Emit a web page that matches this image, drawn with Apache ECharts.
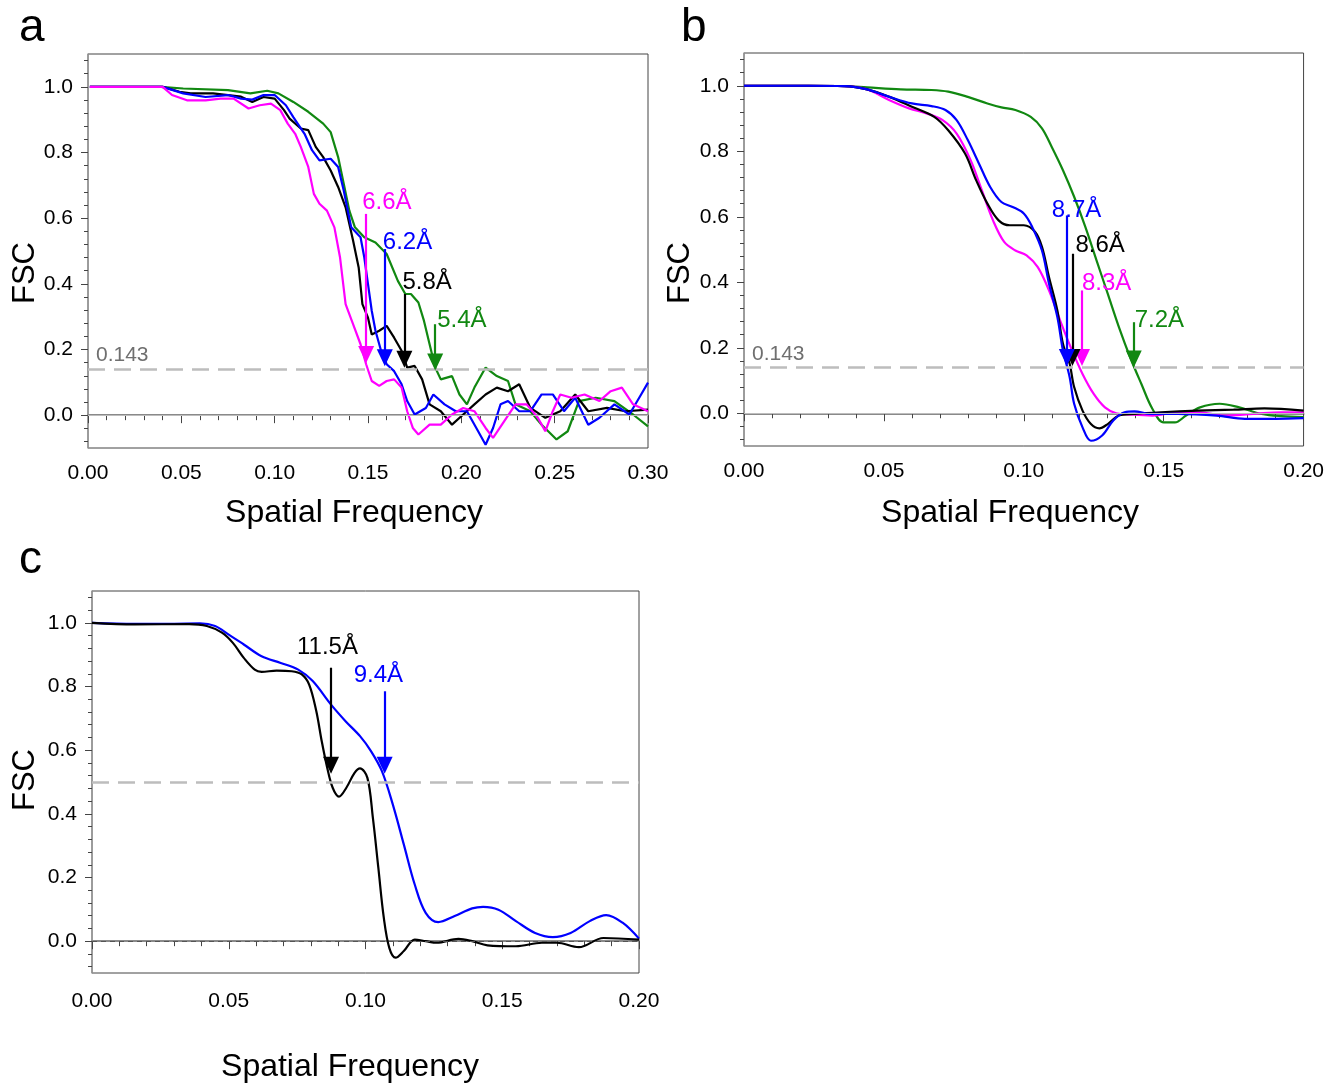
<!DOCTYPE html>
<html>
<head>
<meta charset="utf-8">
<script src="https://cdn.jsdelivr.net/npm/echarts@6/dist/echarts.min.js"></script>
<style>
html,body{margin:0;padding:0;background:#fff;}
#chart{width:1327px;height:1085px;}
</style>
</head>
<body>
<div id="chart"></div>
<script>
// ---------- Panel a (noisy FSC curves) ----------
const aFreqGreen = [0.001,0.02,0.039,0.051,0.075,0.087,0.096,0.102,0.110,0.118,0.126,0.130,0.134,0.137,0.140,0.143,0.148,0.154,0.160,0.166,0.170,0.173,0.177,0.180,0.183,0.186,0.189,0.195,0.199,0.203,0.207,0.213,0.219,0.225,0.229,0.237,0.243,0.251,0.257,0.263,0.272,0.282,0.292,0.300];
const aFscGreen  = [1.0,1.0,1.0,0.995,0.99,0.98,0.988,0.98,0.954,0.924,0.888,0.862,0.786,0.705,0.623,0.572,0.542,0.526,0.491,0.409,0.369,0.369,0.343,0.287,0.216,0.145,0.109,0.119,0.063,0.033,0.084,0.145,0.119,0.104,0.033,0.012,-0.029,-0.074,-0.049,0.043,0.053,0.043,0.002,-0.034];

const aFreqBlack = [0.001,0.02,0.04,0.049,0.055,0.067,0.075,0.082,0.088,0.094,0.100,0.105,0.108,0.114,0.118,0.122,0.126,0.130,0.134,0.138,0.142,0.145,0.147,0.150,0.152,0.156,0.160,0.164,0.168,0.171,0.175,0.179,0.183,0.189,0.195,0.201,0.207,0.213,0.219,0.225,0.231,0.237,0.245,0.253,0.261,0.268,0.278,0.288,0.300];
const aFscBlack  = [1.0,1.0,1.0,0.985,0.98,0.98,0.975,0.97,0.954,0.969,0.964,0.929,0.903,0.873,0.868,0.817,0.786,0.745,0.695,0.633,0.532,0.450,0.338,0.297,0.246,0.257,0.272,0.236,0.196,0.145,0.150,0.109,0.033,0.012,-0.029,0.002,0.033,0.063,0.084,0.073,0.094,0.022,-0.008,0.012,0.063,0.012,0.022,0.012,0.017];

const aFreqBlue = [0.001,0.02,0.04,0.051,0.063,0.075,0.082,0.088,0.094,0.100,0.106,0.110,0.116,0.120,0.124,0.130,0.134,0.137,0.141,0.146,0.148,0.150,0.152,0.154,0.157,0.160,0.164,0.168,0.171,0.175,0.181,0.185,0.191,0.197,0.203,0.209,0.213,0.217,0.221,0.225,0.231,0.237,0.243,0.249,0.255,0.261,0.268,0.274,0.282,0.290,0.296,0.300];
const aFscBlue  = [1.0,1.0,1.0,0.98,0.969,0.975,0.964,0.961,0.975,0.975,0.944,0.908,0.857,0.807,0.776,0.781,0.756,0.684,0.572,0.542,0.481,0.399,0.318,0.257,0.196,0.155,0.134,0.094,0.043,0.002,0.022,0.063,0.033,0.012,0.012,-0.049,-0.090,-0.039,0.033,0.043,0.012,0.012,0.063,0.063,0.012,0.053,-0.029,-0.008,0.033,0.002,0.06,0.099];

const aFreqMagenta = [0.001,0.02,0.04,0.045,0.053,0.063,0.071,0.078,0.086,0.092,0.098,0.103,0.107,0.111,0.114,0.118,0.121,0.124,0.128,0.132,0.135,0.138,0.142,0.146,0.149,0.152,0.156,0.160,0.164,0.168,0.171,0.174,0.177,0.183,0.189,0.195,0.201,0.207,0.213,0.217,0.223,0.229,0.235,0.241,0.245,0.249,0.253,0.259,0.266,0.274,0.280,0.286,0.292,0.300];
const aFscMagenta  = [1.0,1.0,1.0,0.975,0.959,0.959,0.964,0.964,0.934,0.944,0.949,0.929,0.888,0.857,0.817,0.756,0.674,0.644,0.623,0.572,0.481,0.338,0.277,0.216,0.155,0.104,0.089,0.104,0.109,0.084,0.012,-0.039,-0.059,-0.029,-0.029,0.002,0.022,0.012,-0.039,-0.069,-0.018,0.033,0.033,-0.008,-0.049,0.012,0.063,0.053,0.063,0.043,0.073,0.084,0.033,0.012];

const aArrowFreq = [0.149, 0.159, 0.1695, 0.186];
const aArrowTop  = [0.613, 0.506, 0.369, 0.277];
const aArrowEnd  = [0.185, 0.175, 0.170, 0.162];
const aArrowText = ['6.6Å', '6.2Å', '5.8Å', '5.4Å'];
const aThreshold = 0.143;

// ---------- Panel b (smooth FSC curves) ----------
const bFreqGreen = [0,0.023,0.036,0.044,0.056,0.067,0.073,0.080,0.087,0.092,0.097,0.1025,0.1065,0.110,0.114,0.118,0.122,0.126,0.130,0.134,0.138,0.142,0.146,0.150,0.154,0.158,0.163,0.170,0.177,0.185,0.192,0.200];
const bFscGreen  = [1.0,1.0,0.999,0.995,0.989,0.987,0.982,0.966,0.946,0.934,0.926,0.905,0.870,0.813,0.742,0.661,0.569,0.467,0.365,0.263,0.171,0.090,0.013,-0.028,-0.028,-0.007,0.018,0.029,0.018,-0.002,-0.009,-0.012];

const bFreqBlack = [0,0.023,0.036,0.044,0.052,0.060,0.068,0.073,0.079,0.083,0.087,0.091,0.095,0.100,0.104,0.1065,0.109,0.112,0.114,0.1164,0.118,0.121,0.124,0.127,0.130,0.134,0.1396,0.149,0.162,0.175,0.186,0.200];
const bFscBlack  = [1.0,1.0,0.999,0.989,0.966,0.936,0.905,0.864,0.793,0.711,0.640,0.589,0.574,0.574,0.554,0.508,0.416,0.314,0.212,0.151,0.080,0.008,-0.033,-0.046,-0.033,-0.007,-0.002,0.003,0.008,0.011,0.015,0.008];

const bFreqBlue = [0,0.023,0.036,0.044,0.052,0.060,0.067,0.072,0.076,0.080,0.084,0.088,0.092,0.096,0.100,0.103,0.1065,0.109,0.112,0.114,0.1164,0.118,0.121,0.124,0.128,0.132,0.136,0.1396,0.145,0.155,0.169,0.179,0.190,0.200];
const bFscBlue  = [1.0,1.0,0.999,0.989,0.966,0.946,0.938,0.926,0.895,0.834,0.762,0.691,0.645,0.630,0.610,0.569,0.497,0.396,0.294,0.192,0.110,0.029,-0.043,-0.084,-0.068,-0.022,0.003,0.006,-0.002,-0.002,-0.007,-0.017,-0.017,-0.015];

const bFreqMagenta = [0,0.023,0.036,0.044,0.052,0.059,0.0655,0.071,0.076,0.081,0.085,0.089,0.093,0.097,0.101,0.105,0.109,0.113,0.117,0.121,0.125,0.129,0.133,0.138,0.146,0.155,0.163,0.171,0.182,0.192,0.200];
const bFscMagenta  = [1.0,1.0,0.999,0.989,0.956,0.931,0.915,0.895,0.854,0.773,0.681,0.589,0.523,0.497,0.482,0.446,0.375,0.283,0.197,0.120,0.059,0.018,0.0,-0.004,-0.007,0.003,0.003,-0.007,-0.002,0.003,0.003];

const bArrowFreq = [0.1154, 0.1174, 0.1208, 0.1393];
const bArrowTop  = [0.604, 0.487, 0.375, 0.278];
const bArrowEnd  = [0.170, 0.170, 0.170, 0.166];
const bArrowText = ['8.7Å', '8.6Å', '8.3Å', '7.2Å'];
const bThreshold = 0.143;

// ---------- Panel c ----------
const cFreqBlue = [0,0.0156,0.029,0.0395,0.045,0.050,0.0555,0.062,0.069,0.0754,0.0807,0.0874,0.0927,0.098,0.102,0.106,0.110,0.114,0.118,0.122,0.1266,0.1326,0.139,0.143,0.1486,0.155,0.162,0.1685,0.175,0.182,0.188,0.194,0.200];
const cFscBlue  = [1.0,0.997,0.997,0.998,0.990,0.963,0.932,0.895,0.874,0.853,0.817,0.743,0.691,0.644,0.597,0.534,0.429,0.304,0.178,0.089,0.060,0.079,0.103,0.108,0.099,0.063,0.026,0.013,0.026,0.063,0.082,0.058,0.008];

const cFreqBlack = [0,0.0156,0.0355,0.042,0.0475,0.0515,0.0555,0.0595,0.062,0.0675,0.073,0.0767,0.0794,0.082,0.084,0.086,0.088,0.0903,0.093,0.096,0.098,0.1007,0.1027,0.1047,0.1067,0.1087,0.111,0.114,0.118,0.122,0.126,0.134,0.139,0.1446,0.155,0.1645,0.170,0.178,0.187,0.200];
const cFscBlack  = [1.0,0.995,0.996,0.990,0.969,0.937,0.890,0.853,0.846,0.850,0.848,0.838,0.806,0.723,0.628,0.545,0.482,0.454,0.482,0.529,0.543,0.513,0.387,0.230,0.073,-0.021,-0.052,-0.031,0.005,0.0,-0.005,0.007,0.0,-0.013,-0.016,-0.005,-0.005,-0.019,0.010,0.005];

const cArrowFreq = [0.0874, 0.107];
const cArrowTop  = [0.859, 0.785];
const cArrowEnd  = [0.553, 0.553];
const cArrowText = ['11.5Å', '9.4Å'];
const cThreshold = 0.5;

// ---------- Axis ticks ----------
const yLabelTicks = [0, 0.2, 0.4, 0.6, 0.8, 1.0];
const yMinorTicks = [-0.08,-0.04,0.04,0.08,0.12,0.16,0.24,0.28,0.32,0.36,0.44,0.48,0.52,0.56,0.64,0.68,0.72,0.76,0.84,0.88,0.92,0.96,1.04,1.08];

// ---------- Styles / layout ----------
const COL = {green:'#118811', black:'#000000', blue:'#0000ff', magenta:'#ff00ff'};
const FONT = 'Arial, "Liberation Sans", sans-serif';
const grids = [
  {left: 88, top: 54, width: 560, height: 394},
  {left: 744, top: 53, width: 561, height: 393},
  {left: 92, top: 591, width: 547, height: 382}
];
const xMax = [0.3, 0.2, 0.2];
// label offsets [dx, dy] relative to arrow top (px)
const aLabelOff = [[-4,-24],[-2,-19],[-2,-24],[2,-16]];
const bLabelOff = [[-15,-17],[3,-20],[0,-19],[1,-14]];
const cLabelOff = [[-34,-32],[-31,-28]];

function zip(xs, ys){ return xs.map((x,i)=>[x, ys[i]]); }

const xAxes = grids.map((g,i)=>({
  type:'value', gridIndex:i, min:0, max:xMax[i], interval:0.05,
  axisLine:{show:true, lineStyle:{color:'#8a8a8a', width:2}},
  axisTick:{show:true, inside:false, length:8, lineStyle:{color:'#444', width:1}},
  minorTick:{show:true, splitNumber:5, length:5, lineStyle:{color:'#444', width:1}},
  splitLine:{show:false}, minorSplitLine:{show:false},
  axisLabel:{show:true, formatter:v=>v.toFixed(2), fontSize:21, color:'#000', fontFamily:FONT, margin: i===2 ? 18 : 15,
    showMinLabel:true, showMaxLabel:true}
}));

const yAxes = [];
grids.forEach((g,i)=>{
  yAxes.push({
    type:'value', gridIndex:i, min:-0.1, max:1.1, position:'left',
    axisLine:{show:true, onZero:false, lineStyle:{color:'#9a9a9a', width:1.5}},
    axisTick:{show:true, inside:false, length:7, customValues:yLabelTicks, lineStyle:{color:'#444'}},
    axisLabel:{show:true, customValues:yLabelTicks, formatter:v=>v.toFixed(1), fontSize:21, color:'#000', fontFamily:FONT, margin:15},
    splitLine:{show:false}
  });
  yAxes.push({
    type:'value', gridIndex:i, min:-0.1, max:1.1, position:'left',
    axisLine:{show:false},
    axisTick:{show:true, inside:false, length:4, customValues:yMinorTicks, lineStyle:{color:'#444'}},
    axisLabel:{show:false},
    splitLine:{show:false}
  });
});

function curve(gi, xs, ys, color, smooth, arrow){
  const s = {
    type:'line', xAxisIndex:gi, yAxisIndex:gi*2, data:zip(xs,ys), showSymbol:false, symbol:'none',
    smooth:smooth, lineStyle:{color:color, width:2.2}, z:3, silent:true, animation:false
  };
  if (arrow){
    s.markLine = {
      silent:true, animation:false, symbol:['none','triangle'], symbolSize:[16,17],
      lineStyle:{color:color, width:2.2, type:'solid'}, label:{show:false},
      data:[[{coord:[arrow.x, arrow.top]},{coord:[arrow.x, arrow.end]}]]
    };
  }
  return s;
}
function labelSeries(gi, xs, tops, texts, colors, offs, fs){
  return {
    type:'scatter', xAxisIndex:gi, yAxisIndex:gi*2, symbolSize:0, silent:true, animation:false, z:6,
    itemStyle:{opacity:1},
    data: xs.map((x,i)=>({value:[x, tops[i]], label:{show:true, formatter:texts[i], color:colors[i], opacity:1, textBorderWidth:0, position:offs[i], fontSize:fs, fontFamily:FONT}}))
  };
}
function refLine(gi, y, style, label){
  return {
    type:'line', xAxisIndex:gi, yAxisIndex:gi*2, data:[], silent:true, animation:false, z:2,
    markLine:{silent:true, animation:false, symbol:['none','none'], lineStyle:style,
      label: label ? {show:true, formatter:label, position:'insideStartTop', color:'#6f6f6f', fontSize:21, fontFamily:FONT, distance:[8,3]} : {show:false},
      data:[{yAxis:y}]}
  };
}

const aColors = [COL.magenta, COL.blue, COL.black, COL.green];
const bColors = [COL.blue, COL.black, COL.magenta, COL.green];
const cColors = [COL.black, COL.blue];
const arr = (xs,t,e,i)=>({x:xs[i], top:t[i], end:e[i]});

const series = [
  // panel a
  refLine(0, 0, {color:'#bdbdbd', width:1, type:'solid'}),
  refLine(0, aThreshold, {color:'#bdbdbd', width:2.5, type:[17,9]}, '0.143'),
  curve(0, aFreqGreen, aFscGreen, COL.green, false, arr(aArrowFreq,aArrowTop,aArrowEnd,3)),
  curve(0, aFreqBlack, aFscBlack, COL.black, false, arr(aArrowFreq,aArrowTop,aArrowEnd,2)),
  curve(0, aFreqBlue, aFscBlue, COL.blue, false, arr(aArrowFreq,aArrowTop,aArrowEnd,1)),
  curve(0, aFreqMagenta, aFscMagenta, COL.magenta, false, arr(aArrowFreq,aArrowTop,aArrowEnd,0)),
  labelSeries(0, aArrowFreq, aArrowTop, aArrowText, aColors, aLabelOff, 24),
  // panel b
  refLine(1, 0, {color:'#bdbdbd', width:1, type:'solid'}),
  refLine(1, bThreshold, {color:'#bdbdbd', width:2.5, type:[17,9]}, '0.143'),
  curve(1, bFreqGreen, bFscGreen, COL.green, 0.35, arr(bArrowFreq,bArrowTop,bArrowEnd,3)),
  curve(1, bFreqMagenta, bFscMagenta, COL.magenta, 0.35, arr(bArrowFreq,bArrowTop,bArrowEnd,2)),
  curve(1, bFreqBlack, bFscBlack, COL.black, 0.35, arr(bArrowFreq,bArrowTop,bArrowEnd,1)),
  curve(1, bFreqBlue, bFscBlue, COL.blue, 0.35, arr(bArrowFreq,bArrowTop,bArrowEnd,0)),
  labelSeries(1, bArrowFreq, bArrowTop, bArrowText, bColors, bLabelOff, 24),
  // panel c
  refLine(2, 0, {color:'#555', width:1, type:[5,4]}),
  refLine(2, cThreshold, {color:'#bdbdbd', width:2.5, type:[17,9]}),
  curve(2, cFreqBlue, cFscBlue, COL.blue, 0.35, arr(cArrowFreq,cArrowTop,cArrowEnd,1)),
  curve(2, cFreqBlack, cFscBlack, COL.black, 0.35, arr(cArrowFreq,cArrowTop,cArrowEnd,0)),
  labelSeries(2, cArrowFreq, cArrowTop, cArrowText, cColors, cLabelOff, 24)
];

function txt(x, y, s, size, rot, align){
  return {type:'text', x:x, y:y, rotation:rot||0, silent:true,
    style:{text:s, fontSize:size, fontFamily:FONT, fill:'#000', align:align||'center', verticalAlign:'middle'}};
}

const option = {
  backgroundColor:'#fff',
  animation:false,
  grid: grids.map(g=>Object.assign({show:true, borderColor:'#444', borderWidth:1, backgroundColor:'transparent', containLabel:false}, g)),
  xAxis: xAxes,
  yAxis: yAxes,
  series: series,
  graphic: [
    txt(19, 28, 'a', 46, 0, 'left'),
    txt(681, 28, 'b', 46, 0, 'left'),
    txt(19, 560, 'c', 46, 0, 'left'),
    txt(354, 513, 'Spatial Frequency', 32),
    txt(1010, 513, 'Spatial Frequency', 32),
    txt(350, 1067, 'Spatial Frequency', 32),
    txt(25, 273, 'FSC', 31, Math.PI/2),
    txt(680, 273, 'FSC', 31, Math.PI/2),
    txt(25, 780, 'FSC', 31, Math.PI/2)
  ]
};

const chart = echarts.init(document.getElementById('chart'), null, {renderer:'canvas'});
chart.setOption(option);
</script>
</body>
</html>
